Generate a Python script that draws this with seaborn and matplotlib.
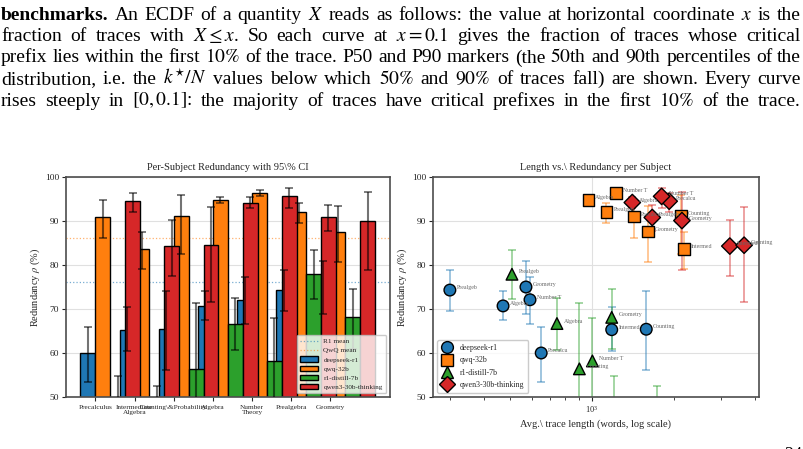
import numpy as np
import pandas as pd
import matplotlib
matplotlib.use("Agg")
import matplotlib.pyplot as plt
import seaborn as sns
from matplotlib.lines import Line2D
from matplotlib.patches import Patch
from matplotlib.ticker import NullFormatter

# ---------------- data ----------------
subjects = ["Precalculus", "Intermediate Algebra", "Counting\\&Probability", "Algebra",
            "Number Theory", "Prealgebra", "Geometry"]
tick_labels = ["Precalculus", "Intermediate\nAlgebra", "Counting\\&Probability", "Algebra",
               "Number\nTheory", "Prealgebra", "Geometry"]
models = ["deepseek-r1", "qwq-32b", "r1-distill-7b", "qwen3-30b-thinking"]
colors = ["#1f77b4", "#ff7f0e", "#2ca02c", "#d62728"]
markers = ["o", "s", "^", "D"]

r1_rho = [60.0, 65.3, 65.4, 70.7, 72.1, 74.3, 75.0]
r1_lo = [53.4, 60.4, 56.1, 67.5, 66.6, 69.5, 68.9]
r1_hi = [66.0, 70.4, 74.0, 74.1, 77.3, 78.8, 81.0]
r1_len = [651, 1184, 1587, 471, 592, 300, 572]

qwq_rho = [91.0, 83.6, 91.1, 94.8, 96.3, 92.1, 87.6]
qwq_lo = [86.1, 79.2, 82.5, 94.0, 95.7, 89.6, 80.7]
qwq_hi = [94.8, 87.5, 95.8, 95.5, 97.0, 94.2, 93.4]
qwq_len = [1434, 2189, 2130, 972, 1228, 1132, 1607]

d7_rho = [47.0, 45.5, 56.4, 66.7, 58.2, 77.9, 68.1]
d7_lo = [39.0, 38.5, 43.0, 60.7, 46.0, 72.2, 61.0]
d7_hi = [54.8, 52.6, 71.4, 72.4, 68.0, 83.5, 74.5]
d7_len = [1205, 1734, 900, 744, 1005, 508, 1184]

q3_rho = [94.5, 84.3, 84.5, 94.2, 95.6, 90.8, 90.1]
q3_lo = [92.0, 77.5, 71.7, 93.0, 93.0, 87.7, 78.9]
q3_hi = [96.4, 90.3, 93.1, 95.4, 97.6, 93.6, 96.5]
q3_len = [1928, 3224, 3640, 1410, 1808, 1670, 2148]

r1_mean = 76.2
qwq_mean = 86.1

paragraph = [
    "benchmarks. An ECDF of a quantity $X$ reads as follows: the value at horizontal coordinate $x$ is the",
    "fraction of traces with $X \\leq x$. So each curve at $x = 0.1$ gives the fraction of traces whose critical",
    "prefix lies within the first $10\\%$ of the trace. P50 and P90 markers (the $50$th and $90$th percentiles of the",
    "distribution, i.e. the $k^{\\star}/N$ values below which $50\\%$ and $90\\%$ of traces fall) are shown. Every curve",
    "rises steeply in $[0, 0.1]$: the majority of traces have critical prefixes in the first $10\\%$ of the trace.",
]

rho = [r1_rho, qwq_rho, d7_rho, q3_rho]
lo = [r1_lo, qwq_lo, d7_lo, q3_lo]
hi = [r1_hi, qwq_hi, d7_hi, q3_hi]
lens = [r1_len, qwq_len, d7_len, q3_len]

# ---------------- style ----------------
sns.set_style("white")
plt.rcParams["font.family"] = ["Liberation Serif", "DejaVu Serif"]
plt.rcParams["mathtext.fontset"] = "stix"
plt.rcParams["axes.edgecolor"] = "0.3"
plt.rcParams["axes.linewidth"] = 1.2

W, H = 804, 449
fig = plt.figure(figsize=(W / 100, H / 100), dpi=100)

def px_axes(x0, y0, x1, y1):
    return fig.add_axes([x0 / W, 1 - y1 / H, (x1 - x0) / W, (y1 - y0) / H])

ax1 = px_axes(66, 177, 390, 397)
ax2 = px_axes(433, 177, 759, 397)

# ---------------- left: bars ----------------
w = 0.38
xs = np.arange(len(subjects))
for i, c in enumerate(colors):
    pos = xs + i * w
    sns.barplot(x=pos, y=rho[i], native_scale=True, width=w, color=c, saturation=1,
                edgecolor="black", linewidth=1.0, errorbar=None, ax=ax1, zorder=2)
for i, c in enumerate(colors):
    pos = xs + i * w
    r = np.array(rho[i]); l = np.array(lo[i]); h = np.array(hi[i])
    ax1.errorbar(pos, r, yerr=[r - l, h - r], fmt="none", ecolor="black",
                 elinewidth=1.5, capsize=2.6, capthick=1.3, alpha=0.55, zorder=3)
ax1.axhline(r1_mean, color=colors[0], ls=":", lw=0.9, alpha=0.6, zorder=1)
ax1.axhline(qwq_mean, color=colors[1], ls=":", lw=0.9, alpha=0.6, zorder=1)
ax1.set_xlim(-0.56, 7.71)
ax1.set_ylim(50, 100)
ax1.set_yticks([50, 60, 70, 80, 90, 100])
ax1.set_xticks(xs + w / 2)
ax1.set_xticklabels(tick_labels, fontsize=5.2, linespacing=1.0)
ax1.set_xlabel("")
ax1.grid(axis="y", color="0.88", lw=0.8, zorder=0)
ax1.set_axisbelow(True)
ax1.tick_params(axis="y", labelsize=6.8, length=3, width=0.8, direction="out", left=True, pad=2)
ax1.tick_params(axis="x", length=3, width=0.8, direction="out", bottom=True, pad=3)
ax1.set_title("Per-Subject Redundancy with 95\\% CI", fontsize=7.5, pad=5)
ax1.set_ylabel("Redundancy $\\rho$ (%)", fontsize=7.5, labelpad=2)

h1 = [Line2D([], [], color=colors[0], ls=":", lw=0.9, alpha=0.6),
      Line2D([], [], color=colors[1], ls=":", lw=0.9, alpha=0.6)]
h1 += [Patch(facecolor=c, edgecolor="black", linewidth=1.0) for c in colors]
ax1.legend(h1, ["R1 mean", "QwQ mean"] + models, loc="lower right", fontsize=5.2,
           handlelength=2.4, borderpad=0.5, labelspacing=0.42, framealpha=0.8,
           edgecolor="0.75", borderaxespad=0.5)

# ---------------- right: scatter ----------------
rows = []
for m, r, l, h, L in zip(models, rho, lo, hi, lens):
    for s, rv, lv, hv, Lv in zip(subjects, r, l, h, L):
        rows.append(dict(model=m, subject=s, rho=rv, lo=lv, hi=hv, length=Lv))
df = pd.DataFrame(rows)

for m, c in zip(models, colors):
    d = df[df.model == m]
    ax2.errorbar(d.length, d.rho, yerr=[d.rho - d.lo, d.hi - d.rho], fmt="none",
                 ecolor=c, alpha=0.5, elinewidth=1.2, capsize=2.6, capthick=1.2, zorder=2)
sns.scatterplot(data=df, x="length", y="rho", hue="model", style="model",
                palette=dict(zip(models, colors)), markers=dict(zip(models, markers)),
                s=70, edgecolor="black", linewidth=1.0, ax=ax2, zorder=3, legend=False)
for _, row in df.iterrows():
    ax2.annotate(row.subject[:8], (row.length, row.rho), xytext=(5, 0),
                 textcoords="offset points", fontsize=4.2, color="0.4", va="bottom")
ax2.set_xscale("log")
ax2.set_xlim(260, 4130)
ax2.set_ylim(50, 100)
ax2.set_yticks([50, 60, 70, 80, 90, 100])
ax2.xaxis.set_minor_formatter(NullFormatter())
ax2.grid(which="major", color="0.88", lw=0.8)
ax2.set_axisbelow(True)
ax2.tick_params(axis="y", labelsize=6.8, length=3, width=0.8, direction="out", left=True, pad=2)
ax2.tick_params(axis="x", which="major", labelsize=6.0, length=3, width=0.8, direction="out", bottom=True, pad=2)
ax2.tick_params(axis="x", which="minor", length=2, width=0.6, direction="out", bottom=True)
ax2.set_title("Length vs.\\ Redundancy per Subject", fontsize=7.5, pad=5)
ax2.set_xlabel("Avg.\\ trace length (words, log scale)", fontsize=7.5, labelpad=3)
ax2.set_ylabel("Redundancy $\\rho$ (%)", fontsize=7.5, labelpad=2)
h2 = [Line2D([], [], marker=mk, color=c, markeredgecolor="black", markeredgewidth=1.0,
             markersize=8.5, linestyle="") for mk, c in zip(markers, colors)]
ax2.legend(h2, models, loc="lower left", fontsize=5.7, handlelength=1.6, borderpad=0.5,
           labelspacing=0.55, framealpha=0.8, edgecolor="0.75", borderaxespad=0.5)

# ---------------- paragraph text (justified) ----------------
def tokenize(s):
    toks, cur, in_math = [], "", False
    for ch in s:
        if ch == "$":
            in_math = not in_math
            cur += ch
        elif ch == " " and not in_math:
            if cur:
                toks.append(cur)
            cur = ""
        else:
            cur += ch
    if cur:
        toks.append(cur)
    return toks

FS = 14.0
fig.canvas.draw()
renderer = fig.canvas.get_renderer()
baselines = [19.5, 41.0, 62.5, 84.0, 105.5]
x_left, x_right = 1.0, 801.0
for line, base in zip(paragraph, baselines):
    toks = tokenize(line)
    objs = []
    for tok in toks:
        t = fig.text(0, 1 - base / H, tok, fontsize=FS, va="baseline", ha="left",
                     fontweight="bold" if tok == "benchmarks." else "normal", color="black")
        objs.append(t)
    widths = [o.get_window_extent(renderer).width for o in objs]
    gap = (x_right - x_left - sum(widths)) / max(len(objs) - 1, 1)
    gap = max(gap, 2.5)
    xpos = x_left
    for o, wd in zip(objs, widths):
        o.set_x(xpos / W)
        xpos += wd + gap

fig.text(784 / W, 1 - 460 / H, "24", fontsize=13, va="baseline", ha="left", color="black")

fig.savefig("out.png", dpi=100)
